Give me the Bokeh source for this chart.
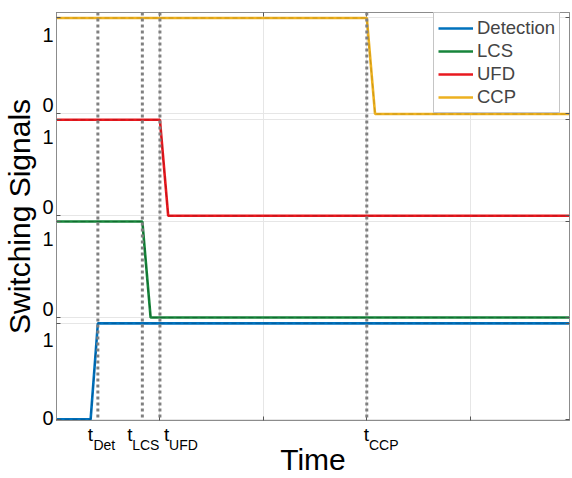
from bokeh.plotting import figure
from bokeh.models import (FixedTicker, LinearAxis, Span, Range1d, Legend,
                          LegendItem, CustomJSTickFormatter)
from bokeh.embed import file_html
from bokeh.resources import INLINE

# ---------------- data ----------------
signal_names = ["Detection", "LCS", "UFD", "CCP"]
det_t = [0.0, 0.033, 0.040, 0.496]
det_v = [0, 0, 1, 1]
lcs_t = [0.0, 0.083, 0.091, 0.496]
lcs_v = [1, 1, 0, 0]
ufd_t = [0.0, 0.100, 0.108, 0.496]
ufd_v = [1, 1, 0, 0]
ccp_t = [0.0, 0.300, 0.308, 0.496]
ccp_v = [1, 1, 0, 0]

event_names = ["Det", "LCS", "UFD", "CCP"]
event_times = [0.040, 0.083, 0.100, 0.300]

y_tick_values = [0, 1]
y_tick_labels = ["0", "1"]
x_grid_values = [0.0, 0.1, 0.2, 0.3, 0.4]

# ---------------- style ----------------
colors = ["#0072BD", "#17853B", "#E8191F", "#EDB120"]
dark_colors = ["#00508A", "#0E5C28", "#A81014", "#B8860E"]
panel_step = 1.06
FONT = "Liberation Sans"
BOX = "#8c8c8c"
X0, X1 = 0.0, 0.496
Y0, Y1 = -0.012, 4.237
FRAME_W, FRAME_H = 513, 408
PX_X = FRAME_W / (X1 - X0)
PX_Y = FRAME_H / (Y1 - Y0)

series_t = [det_t, lcs_t, ufd_t, ccp_t]
series_v = [det_v, lcs_v, ufd_v, ccp_v]

p = figure(width=571, height=478,
           x_range=Range1d(X0, X1), y_range=Range1d(Y0, Y1),
           output_backend="svg", toolbar_location=None,
           min_border_left=56, min_border_right=2,
           min_border_top=12, min_border_bottom=58)

blank = CustomJSTickFormatter(code="return ''")


def lookup_formatter(pos, labs):
    return CustomJSTickFormatter(args=dict(pos=pos, labs=labs), code="""
        let b = 0;
        for (let i = 0; i < pos.length; i++) {
            if (Math.abs(pos[i] - tick) < Math.abs(pos[b] - tick)) { b = i; }
        }
        return labs[b];
    """)


def style_tick_axis(ax):
    ax.major_tick_in = 4
    ax.major_tick_out = 0
    ax.minor_tick_in = 0
    ax.minor_tick_out = 0
    ax.minor_tick_line_color = None
    ax.major_label_standoff = 0
    ax.formatter = blank
    ax.axis_line_color = BOX
    ax.major_tick_line_color = "#555555"
    ax.major_label_text_font_size = "1px"


def label_axis(ticks, labels, size, standoff):
    return LinearAxis(ticker=FixedTicker(ticks=ticks),
                      formatter=lookup_formatter(ticks, labels),
                      major_tick_line_color=None, minor_tick_line_color=None,
                      major_tick_in=0, major_tick_out=0,
                      minor_tick_in=0, minor_tick_out=0,
                      axis_line_color=None, major_label_standoff=standoff,
                      major_label_text_font=FONT, major_label_text_font_size=size,
                      major_label_text_color="black")


ytick_pos = [v + k * panel_step for k in range(4) for v in y_tick_values]

# default axes: tick marks only
xa = p.below[0]
ya = p.left[0]
style_tick_axis(xa)
style_tick_axis(ya)
xa.ticker = FixedTicker(ticks=x_grid_values)
ya.ticker = FixedTicker(ticks=ytick_pos)

top_ax = LinearAxis(ticker=FixedTicker(ticks=x_grid_values))
right_ax = LinearAxis(ticker=FixedTicker(ticks=ytick_pos))
style_tick_axis(top_ax)
style_tick_axis(right_ax)
p.add_layout(top_ax, "above")
p.add_layout(right_ax, "right")

# y tick label axis (labels placed like the reference)
ylab_pos, ylab_txt = [], []
for k in range(4):
    for v, lab in zip(y_tick_values, y_tick_labels):
        if v == 1:
            shift = -17
        else:
            shift = 1 if k == 0 else 9
        ylab_pos.append(v + k * panel_step + shift / PX_Y)
        ylab_txt.append(lab)
ylab_ax = label_axis(ylab_pos, ylab_txt, "20px", 3)
ylab_ax.axis_label = "Switching Signals"
ylab_ax.axis_label_standoff = 3
ylab_ax.axis_label_text_font = FONT
ylab_ax.axis_label_text_font_size = "30px"
ylab_ax.axis_label_text_font_style = "normal"
ylab_ax.axis_label_text_color = "black"
p.add_layout(ylab_ax, "left")

# event labels: "t" then subscript
t_shift = [-7.4, -12.4, 6.6, -0.4]
sub_shift = [6.5, 3.5, 23.5, 17]
t_pos = [t + s / PX_X for t, s in zip(event_times, t_shift)]
sub_pos = [t + s / PX_X for t, s in zip(event_times, sub_shift)]

t_ax = label_axis(t_pos, ["t"] * len(t_pos), "19px", 3)
sub_ax = label_axis(sub_pos, event_names, "14px", -11)
sub_ax.axis_label = "Time"
sub_ax.axis_label_standoff = -13
sub_ax.axis_label_text_font = FONT
sub_ax.axis_label_text_font_size = "30px"
sub_ax.axis_label_text_font_style = "normal"
sub_ax.axis_label_text_color = "black"
p.add_layout(t_ax, "below")
p.add_layout(sub_ax, "below")

p.xgrid.grid_line_color = "#e6e6e6"
p.ygrid.grid_line_color = "#e6e6e6"
p.outline_line_color = BOX
p.background_fill_color = "white"
p.border_fill_color = "white"

items = []
for k in range(4):
    ys = [v + k * panel_step for v in series_v[k]]
    r = p.line(series_t[k], ys, line_color=colors[k], line_width=2.6)
    p.line(series_t[k], ys, line_color=dark_colors[k], line_width=1.0,
           line_dash="5 3", line_alpha=0.6)
    items.append(LegendItem(label=signal_names[k], renderers=[r]))

for t in event_times:
    p.add_layout(Span(location=t, dimension="height", line_color="#808080",
                      line_width=3, line_dash="3 3"))

legend = Legend(items=items, location=(377, 307),
                label_text_font=FONT, label_text_font_size="18.5px",
                glyph_width=35, glyph_height=20, label_height=20,
                label_standoff=4, padding=4, spacing=1, margin=0,
                border_line_color=BOX, border_line_width=1.5,
                background_fill_color="white", background_fill_alpha=1)
p.add_layout(legend)

open("out.html", "w").write(file_html(p, INLINE))
